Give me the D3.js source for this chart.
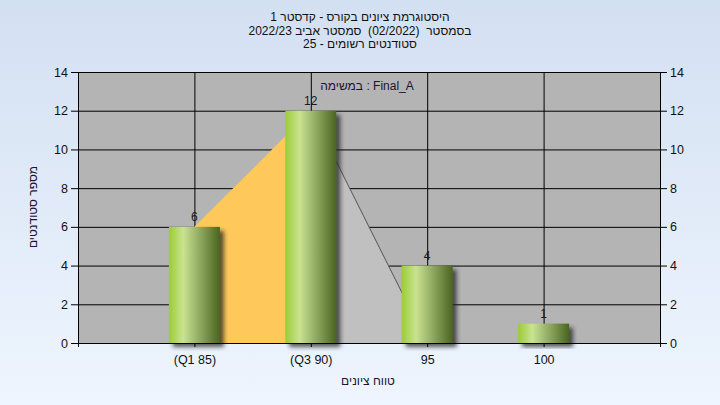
<!DOCTYPE html>
<html><head><meta charset="utf-8">
<script src="https://cdn.jsdelivr.net/npm/d3@7"></script>
<style>
body{margin:0;background:#fff;}
svg{display:block;font-family:"Liberation Sans",Arial,sans-serif;}
</style>
</head><body>
<svg id="c" width="720" height="405"></svg>
<script>
// ---- data ----
const categories = ["(Q1 85)", "(Q3 90)", "95", "100"];
const counts = [6, 12, 4, 1];
const yTicks = [0, 2, 4, 6, 8, 10, 12, 14];
const iqrCats = ["(Q1 85)", "(Q3 90)"];
const iqrValues = [6, 12];
const tailCats = ["(Q3 90)", "95"];
const tailValues = [12, 0];
const titleLines = ["היסטוגרמת ציונים בקורס - קדסטר 1", "בסמסטר  (02/2022)  סמסטר אביב 2022/23", "סטודנטים רשומים - 25"];
const seriesLabel = "במשימה : Final_A";
const yTitle = "מספר סטודנטים";
const xTitle = "טווח ציונים";

// ---- layout ----
const W = 720, H = 405;
const L = 78, R = 660, T = 72, B = 343;
const svg = d3.select("#c");
const defs = svg.append("defs");

const bg = defs.append("linearGradient").attr("id","bg").attr("x1",0).attr("y1",0).attr("x2",0).attr("y2",1);
bg.append("stop").attr("offset","0%").attr("stop-color","#d3e0f2");
bg.append("stop").attr("offset","100%").attr("stop-color","#eef5fe");

const bar = defs.append("linearGradient").attr("id","bar").attr("x1",0).attr("y1",0).attr("x2",1).attr("y2",0);
[["0%","#9ccb38"],["28%","#c9e38f"],["55%","#99b46a"],["100%","#4a6420"]].forEach(s=>
  bar.append("stop").attr("offset",s[0]).attr("stop-color",s[1]));

const sh = defs.append("filter").attr("id","sh").attr("x","-20%").attr("y","-20%").attr("width","150%").attr("height","150%");
sh.append("feDropShadow").attr("dx",4).attr("dy",4).attr("stdDeviation",2).attr("flood-color","#222").attr("flood-opacity",0.75);

svg.append("rect").attr("width",W).attr("height",H).attr("fill","url(#bg)");

const x = d3.scalePoint().domain(["_l", ...categories, "_r"]).range([L, R]);
const y = d3.scaleLinear().domain([0, 14]).range([B, T]);

// plot background
svg.append("rect").attr("x",L).attr("y",T).attr("width",R-L).attr("height",B-T).attr("fill","#b4b4b4");

// grid
const g = svg.append("g");
g.selectAll(".hg").data(yTicks).join("line")
  .attr("x1",L).attr("x2",R).attr("y1",d=>y(d)+0.5).attr("y2",d=>y(d)+0.5)
  .attr("stroke","#000").attr("stroke-width",1);
g.selectAll(".vg").data(categories).join("line")
  .attr("x1",d=>x(d)+0.5).attr("x2",d=>x(d)+0.5).attr("y1",T).attr("y2",B)
  .attr("stroke","#000").attr("stroke-width",1);

// areas
const area = d3.area().x(d=>x(d[0])).y0(y(0)).y1(d=>y(d[1]));
svg.append("path").datum(iqrCats.map((c,i)=>[c,iqrValues[i]]))
  .attr("d",area).attr("fill","#fec95a");
const tail = tailCats.map((c,i)=>[c,tailValues[i]]);
svg.append("path").datum(tail).attr("d",area).attr("fill","#c0c0c0");
svg.append("path").datum(tail).attr("d",d3.line().x(d=>x(d[0])).y(d=>y(d[1])))
  .attr("fill","none").attr("stroke","#555").attr("stroke-width",1);

// bars
const bw = 51;
svg.append("g").selectAll("rect").data(categories).join("rect")
  .attr("x",d=>x(d)-bw/2).attr("width",bw)
  .attr("y",(d,i)=>y(counts[i])).attr("height",(d,i)=>y(0)-y(counts[i]))
  .attr("fill","url(#bar)").attr("filter","url(#sh)");

// value labels
svg.append("g").selectAll("text").data(categories).join("text")
  .attr("x",d=>x(d)).attr("y",(d,i)=>y(counts[i])-6)
  .attr("text-anchor","middle").attr("font-size",12).attr("fill","#1a1a1a")
  .text((d,i)=>counts[i]);

// axes
const axL = d3.axisLeft(y).tickValues(yTicks).tickSize(7).tickSizeOuter(0);
const axR = d3.axisRight(y).tickValues(yTicks).tickSize(7).tickSizeOuter(0);
const axB = d3.axisBottom(x).tickSize(4).tickSizeOuter(0).tickFormat(d=>d.startsWith("_")?"":d);
function style(sel){
  sel.selectAll("path").attr("stroke","#000");
  sel.selectAll("line").attr("stroke","#000");
  sel.selectAll("text").attr("font-size",12.5).attr("fill","#111").attr("font-family","Liberation Sans, Arial, sans-serif");
}
svg.append("g").attr("transform",`translate(${L},0)`).call(axL).call(style);
svg.append("g").attr("transform",`translate(${R},0)`).call(axR).call(style);
const gb = svg.append("g").attr("transform",`translate(0,${B})`).call(axB).call(style);
gb.selectAll("text").attr("dy","1.1em");

// titles
svg.append("g").selectAll("text").data(titleLines).join("text")
  .attr("x",360).attr("y",(d,i)=>21+i*13.5)
  .attr("text-anchor","middle").attr("direction","rtl").attr("font-size",12).attr("fill","#111")
  .style("white-space","pre")
  .text(d=>d);

svg.append("text").attr("x",367).attr("y",90).attr("text-anchor","middle")
  .attr("font-size",12).attr("fill","#221133").text(seriesLabel);

svg.append("text").attr("transform","translate(37,207) rotate(-90)")
  .attr("text-anchor","middle").attr("direction","rtl").attr("font-size",12).attr("fill","#221133").text(yTitle);

svg.append("text").attr("x",368).attr("y",385).attr("text-anchor","middle")
  .attr("direction","rtl").attr("font-size",12).attr("fill","#221133").text(xTitle);
</script>
</body></html>
